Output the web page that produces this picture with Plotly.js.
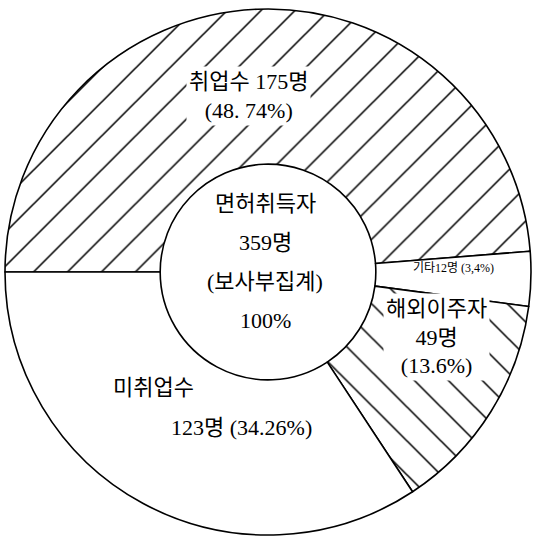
<!DOCTYPE html>
<html>
<head>
<meta charset="utf-8">
<script src="https://cdn.plot.ly/plotly-3.0.1.min.js"></script>
<style>
  html, body { margin: 0; padding: 0; background: #fff; }
  #chart { width: 535px; height: 546px; }
</style>
</head>
<body>
<div id="chart"></div>
<script>
// ---- data ----
const categories = ['취업수', '기타', '해외이주자', '미취업수'];
const counts = [175, 12, 49, 123];
const shareLabels = ['48. 74', '3,4', '13.6', '34.26'];
const hatch = ['/', '', '\\', ''];
const centerLines = ['면허취득자', '359명', '(보사부집계)', '100%'];

const FONT = 'Liberation Serif, "Noto Sans CJK KR", serif';

const W = 535, H = 546;
function px(x) { return x / W; }
function py(y) { return 1 - y / H; }

const trace = {
  type: 'pie',
  labels: categories,
  values: counts,
  sort: false,
  direction: 'clockwise',
  rotation: 270,
  hole: 0.41,
  textinfo: 'none',
  hoverinfo: 'none',
  showlegend: false,
  domain: { x: [px(5), px(531)], y: [py(535), py(9)] },
  marker: {
    colors: categories.map(() => '#ffffff'),
    line: { color: '#000000', width: 1.6 },
    pattern: {
      shape: hatch,
      fgcolor: '#000000',
      fgopacity: 1,
      bgcolor: '#ffffff',
      size: 24,
      solidity: 0.065,
      fillmode: 'replace'
    }
  }
};

function ann(text, x, y, size, bg) {
  return {
    text: text, xref: 'paper', yref: 'paper',
    x: px(x), y: py(y), xanchor: 'center', yanchor: 'middle',
    showarrow: false,
    font: { family: FONT, size: size, color: '#000' },
    bgcolor: bg ? '#ffffff' : 'rgba(0,0,0,0)',
    borderpad: 2
  };
}

const annotations = [
  ann(categories[0] + ' ' + counts[0] + '명<br>(' + shareLabels[0] + '%)', 248, 96, 22, true),
  ann(categories[1] + counts[1] + '명 (' + shareLabels[1] + '%)', 453, 268, 12, false),
  ann(categories[2] + '<br>' + counts[2] + '명<br>(' + shareLabels[2] + '%)', 436, 337, 22, true),
  ann(categories[3], 153, 387, 22, false),
  ann(counts[3] + '명 (' + shareLabels[3] + '%)', 241, 427, 22, false),
  ann(centerLines[0], 265, 203, 22, false),
  ann(centerLines[1], 265, 243, 22, false),
  ann(centerLines[2], 265, 281, 22, false),
  ann(centerLines[3], 265, 320, 22, false)
];

const layout = {
  width: W, height: H,
  margin: { l: 0, r: 0, t: 0, b: 0 },
  paper_bgcolor: '#ffffff',
  plot_bgcolor: '#ffffff',
  annotations: annotations
};

Plotly.newPlot('chart', [trace], layout, { displayModeBar: false, staticPlot: true });
</script>
</body>
</html>
